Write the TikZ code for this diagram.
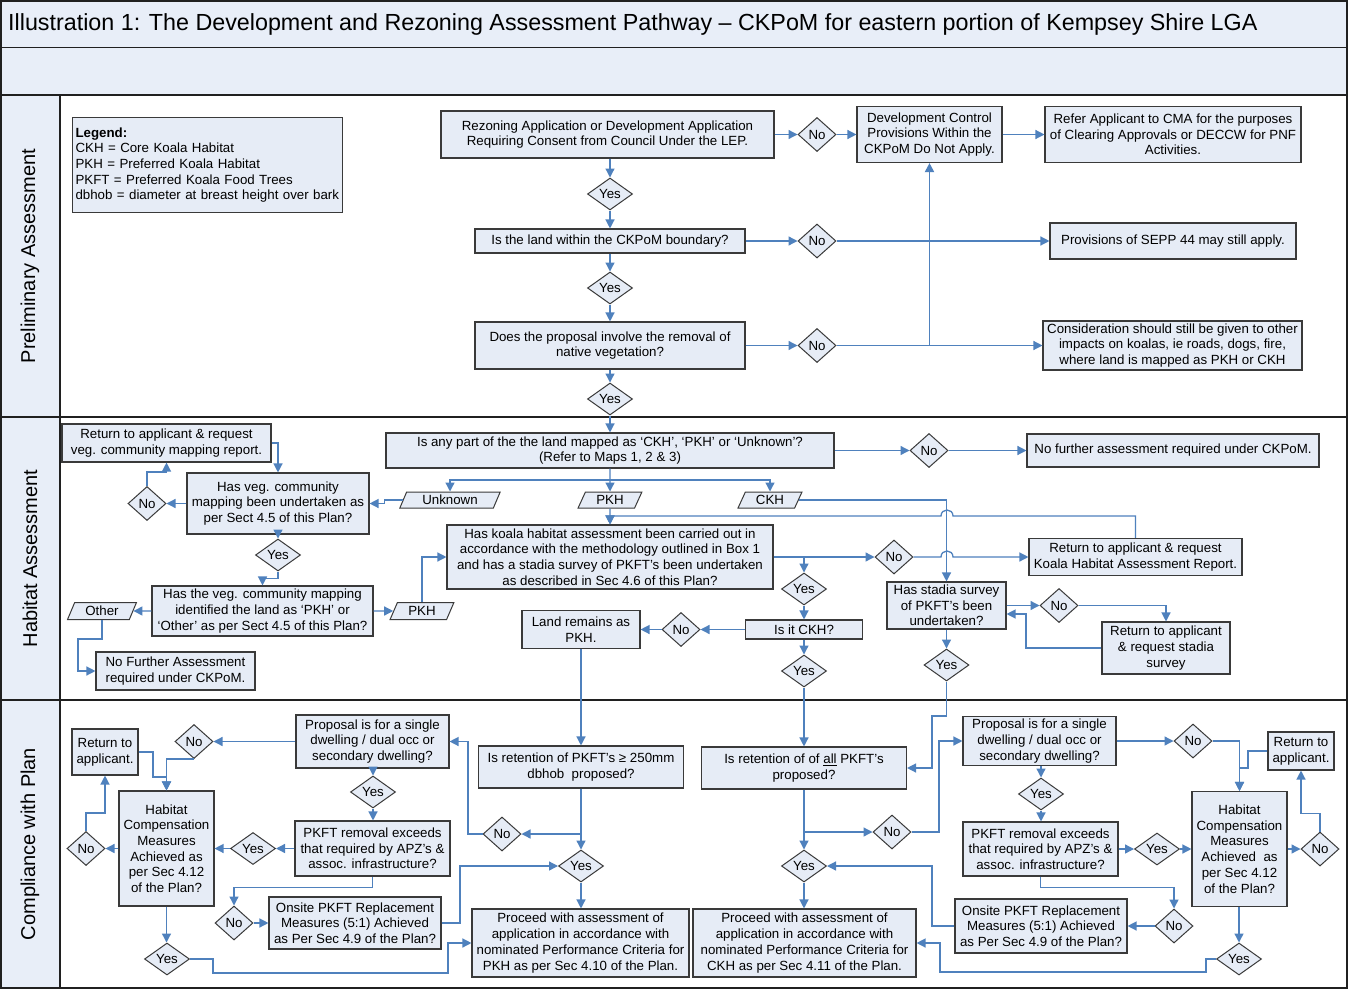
\documentclass[tikz,border=0pt]{standalone}
\usepackage{fontspec}
\setmainfont{Liberation Sans}
\usetikzlibrary{arrows.meta,shapes.geometric,calc}
\definecolor{boxfill}{HTML}{E6ECF6}
\definecolor{bandfill}{HTML}{E8EEF8}
\definecolor{lineblue}{HTML}{4F81BD}
\definecolor{boxline}{HTML}{3A3A3A}
\definecolor{laneline}{HTML}{202020}
\newcommand\fs{\fontsize{13.3}{15.7}\selectfont}
\newcommand\lanefont{\fontsize{20}{24}\selectfont}
\newcommand\titlefont{\fontsize{23.3}{27}\selectfont}
\begin{document}
\begin{tikzpicture}[x=1pt,y=-1pt,
  sz/.style 2 args={minimum width=#1,minimum height=#2},
  box/.style={draw=boxline,fill=boxfill,line width=1.1pt,align=center,inner sep=0pt,font=\fs},
  dno/.style={diamond,aspect=1.4,draw=boxline,fill=boxfill,line width=1pt,inner sep=0pt,minimum width=38,minimum height=34,font=\fs},
  dyes/.style={diamond,aspect=1.4,draw=boxline,fill=boxfill,line width=1pt,inner sep=0pt,minimum width=45,minimum height=32,font=\fs},
  para/.style={trapezium,trapezium left angle=66,trapezium right angle=114,trapezium stretches=true,draw=boxline,fill=boxfill,line width=1pt,inner sep=0pt,minimum height=16,font=\fs},
  conn/.style={draw=lineblue,line width=1.3pt,-{Triangle[length=9pt,width=9pt]}},
  plain/.style={draw=lineblue,line width=1.3pt},
  lane/.style={draw=laneline,line width=1.4pt}
]
\useasboundingbox (0,0) rectangle (1349,990);
\fill[white] (0,0) rectangle (1349,990);
% bands and lanes
\fill[bandfill] (1,1) rectangle (1347,95);
\fill[bandfill] (1,95) rectangle (60,988);
\draw[lane] (1,47.5) -- (1347,47.5);
\draw[lane] (1,95) -- (1347,95);
\draw[lane] (1,417) -- (1347,417);
\draw[lane] (1,700) -- (1347,700);
\draw[lane] (60,95) -- (60,988);
\draw[draw=laneline,line width=2pt] (1,1) rectangle (1347,988);
\node[anchor=west,font=\titlefont,inner sep=0pt] (title) at (8,24) {Illustration 1: The Development and Rezoning Assessment Pathway – CKPoM for eastern portion of Kempsey Shire LGA};
\node[rotate=90,font=\lanefont] (lp) at (30,256) {Preliminary Assessment};
\node[rotate=90,font=\lanefont] (lh) at (30,558.5) {Habitat Assessment};
\node[rotate=90,font=\lanefont] (lc) at (30,844) {Compliance with Plan};

% ---------- Preliminary ----------
\node[box,anchor=north west,sz={270}{95},text width=264,align=left] (leg) at (72,117) {\textbf{Legend:}\\CKH = Core Koala Habitat\\PKH = Preferred Koala Habitat\\PKFT = Preferred Koala Food Trees\\dbhob = diameter at breast height over bark};
\node[box,sz={333}{47}] (rez) at (607.5,134.5) {Rezoning Application or Development Application\\Requiring Consent from Council Under the LEP.};
\node[dyes] (y1) at (610,194) {Yes};
\node[box,sz={270}{24}] (land) at (610,241) {Is the land within the CKPoM boundary?};
\node[dyes] (y2) at (610,288) {Yes};
\node[box,sz={270}{47}] (veg) at (610,345.5) {Does the proposal involve the removal of\\native vegetation?};
\node[dyes] (y3) at (610,399) {Yes};
\node[dno] (n1) at (817,134.5) {No};
\node[dno] (n2) at (817,241) {No};
\node[dno] (n3) at (817,345.5) {No};
\node[box,sz={145}{56}] (dcp) at (929.5,134.5) {Development Control\\Provisions Within the\\CKPoM Do Not Apply.};
\node[box,sz={256}{56}] (cma) at (1173,134.5) {Refer Applicant to CMA for the purposes\\of Clearing Approvals or DECCW for PNF\\Activities.};
\node[box,sz={246}{36}] (sepp) at (1173,241) {Provisions of SEPP 44 may still apply.};
\node[box,sz={259}{49}] (cons) at (1172.5,345.5) {Consideration should still be given to other\\impacts on koalas, ie roads, dogs, fire,\\where land is mapped as PKH or CKH};

\draw[conn] (rez.south -| y1.north) -- (y1.north);
\draw[conn] (y1.south) -- (land.north);
\draw[conn] (land.south) -- (y2.north);
\draw[conn] (y2.south) -- (veg.north);
\draw[conn] (veg.south) -- (y3.north);
\draw[conn] (rez.east) -- (n1.west);
\draw[conn] (n1.east) -- (dcp.west);
\draw[conn] (dcp.east) -- (cma.west);
\draw[conn] (land.east) -- (n2.west);
\draw[conn] (n2.east) -- (sepp.west);
\draw[conn] (veg.east) -- (n3.west);
\draw[conn] (n3.east) -- (cons.west);
\draw[conn,line width=1.8pt] (dcp.south |- n3) -- (dcp.south);

% ---------- Habitat ----------
\node[box,sz={448}{35}] (isany) at (610,450.5) {Is any part of the the land mapped as ‘CKH’, ‘PKH’ or ‘Unknown’?\\(Refer to Maps 1, 2 \& 3)};
\node[dno] (n5) at (929,450.5) {No};
\node[box,sz={292}{33}] (nfr) at (1173,450.5) {No further assessment required under CKPoM.};
\node[para,minimum width=101] (unk) at (450,500) {Unknown};
\node[para,minimum width=64] (pkh2) at (610,500) {PKH};
\node[para,minimum width=64] (ckh) at (770,500) {CKH};
\node[box,sz={209}{38}] (ret1) at (166.5,443) {Return to applicant \& request\\veg. community mapping report.};
\node[box,sz={182}{61}] (hv) at (278,503.5) {Has veg. community\\mapping been undertaken as\\per Sect 4.5 of this Plan?};
\node[dno] (n4) at (147,503.5) {No};
\node[dyes] (y4) at (278,555) {Yes};
\node[box,sz={221}{50}] (hid) at (262.5,611) {Has the veg. community mapping\\identified the land as ‘PKH’ or\\‘Other’ as per Sect 4.5 of this Plan?};
\node[para,minimum width=69,minimum height=17] (other) at (102,611) {Other};
\node[para,minimum width=64,minimum height=17] (pkh1) at (422,611) {PKH};
\node[box,sz={159}{38},align=left] (nfa) at (175.5,671) {No Further Assessment\\required under CKPoM.};
\node[box,sz={326}{64}] (hk) at (610,557) {Has koala habitat assessment been carried out in\\accordance with the methodology outlined in Box 1\\and has a stadia survey of PKFT’s been undertaken\\as described in Sec 4.6 of this Plan?};
\node[dno] (n6) at (894,557) {No};
\node[box,sz={213}{37}] (retk) at (1135.5,557) {Return to applicant \& request\\Koala Habitat Assessment Report.};
\node[box,sz={119}{47}] (hs) at (946.5,605.5) {Has stadia survey\\of PKFT’s been\\undertaken?};
\node[dno] (n7) at (1059,605.5) {No};
\node[box,sz={128}{52}] (rets) at (1166,648) {Return to applicant\\\& request stadia\\survey};
\node[dyes] (y5) at (946.5,665) {Yes};
\node[dyes] (y6) at (804,589) {Yes};
\node[box,sz={117}{19}] (isckh) at (804,629.5) {Is it CKH?};
\node[dno] (n8) at (681,629.5) {No};
\node[box,sz={118}{38}] (lrp) at (581,629.5) {Land remains as\\PKH.};
\node[dyes] (y7) at (804,671) {Yes};

\draw[conn] (y3.south) -- (isany.north);
\draw[conn] (isany.east) -- (n5.west);
\draw[conn] (n5.east) -- (nfr.west);
\coordinate (b1) at (610,480);
\draw[conn] (isany.south) -- (pkh2.north);
\draw[conn] (b1) -| (unk.north);
\draw[conn] (b1) -| (ckh.north);
\draw[conn] (unk.west) -- ++(-18,0) |- (hv.east);
\draw[conn] (hv.west) -- (n4.east);
\draw[conn] (n4.north) -- ++(0,-14) -| (ret1.south);
\draw[conn] (ret1.east) -| (hv.north);
\draw[conn] (hv.south) -- (y4.north);
\draw[conn] (y4.south) -- ++(0,7) -| (hid.north);
\draw[conn] (hid.west) -- (other.east);
\draw[conn] (hid.east) -- (pkh1.west);
\draw[conn] (other.south) -- ++(0,19) -- ++(-24,0) |- (nfa.west);
\draw[conn] (pkh1.north) |- (hk.west);
\draw[conn] (pkh2.south) -- (hk.north);
\draw[conn] (retk.north) |- (953,516) .. controls (953,508) and (941,508) .. (941,516) -| (hk.north);
\draw[conn] (hk.east) -- (n6.west);
\draw[conn] (y6.north |- hk.east) -- (y6.north);
\draw[conn] (n6.east) -- (941,557) .. controls (941,549) and (953,549) .. (953,557) -- (retk.west);
\draw[conn] (ckh.east) -| (hs.north);
\draw[conn] (hs.east) -- (n7.west);
\draw[conn] (n7.east) -| (rets.north);
\draw[conn] (rets.west) -| (1026,614) -- ($(hs.east)+(0,8.5)$);
\draw[conn] (hs.south) -- (y5.north);
\draw[conn] (y6.south) -- (isckh.north);
\draw[conn] (isckh.west) -- (n8.east);
\draw[conn] (n8.west) -- (lrp.east);
\draw[conn] (isckh.south) -- (y7.north);

% ---------- Compliance ----------
\node[box,sz={205}{42}] (retP) at (581,767) {Is retention of PKFT’s ≥ 250mm\\dbhob\ \ proposed?};
\node[dyes] (yP) at (581,866) {Yes};
\node[dno] (nP) at (502,834) {No};
\node[box,sz={217}{68}] (procP) at (580.5,943) {Proceed with assessment of\\application in accordance with\\nominated Performance Criteria for\\PKH as per Sec 4.10 of the Plan.};
\node[box,sz={205}{42}] (retC) at (804,768) {Is retention of of \underline{all} PKFT’s\\proposed?};
\node[dyes] (yC) at (804,866) {Yes};
\node[dno] (nC) at (892,832) {No};
\node[box,sz={223}{68}] (procC) at (804.5,943) {Proceed with assessment of\\application in accordance with\\nominated Performance Criteria for\\CKH as per Sec 4.11 of the Plan.};

\node[box,sz={153}{53}] (propL) at (372.5,741.5) {Proposal is for a single\\dwelling / dual occ or\\secondary dwelling?};
\node[dno] (n9) at (194,741.5) {No};
\node[box,sz={66}{46}] (retL) at (105,752) {Return to\\applicant.};
\node[box,sz={95}{115}] (hcL) at (166.5,848.5) {Habitat\\Compensation\\Measures\\Achieved as\\per Sec 4.12\\of the Plan?};
\node[dno] (n10) at (86,848.5) {No};
\node[dyes] (y8) at (253,848.5) {Yes};
\node[box,sz={155}{55}] (pkfL) at (372.5,848.5) {PKFT removal exceeds\\that required by APZ’s \&\\assoc. infrastructure?};
\node[dyes] (y9) at (373,792) {Yes};
\node[dno] (n11) at (234,923) {No};
\node[box,sz={172}{52}] (onL) at (355,923) {Onsite PKFT Replacement\\Measures (5:1) Achieved\\as Per Sec 4.9 of the Plan?};
\node[dyes] (y10) at (167,959) {Yes};

\node[box,sz={153}{49}] (propR) at (1039.5,741) {Proposal is for a single\\dwelling / dual occ or\\secondary dwelling?};
\node[dno] (n12) at (1193,741) {No};
\node[box,sz={66}{38}] (retR) at (1301,751) {Return to\\applicant.};
\node[box,sz={95}{115}] (hcR) at (1239.5,849) {Habitat\\Compensation\\Measures\\Achieved\ \ as\\per Sec 4.12\\of the Plan?};
\node[dno] (n13) at (1320,849) {No};
\node[dyes] (y11) at (1041,794) {Yes};
\node[box,sz={155}{54}] (pkfR) at (1040.5,849) {PKFT removal exceeds\\that required by APZ’s \&\\assoc. infrastructure?};
\node[dyes] (y12) at (1157,849) {Yes};
\node[dno] (n14) at (1174,926) {No};
\node[box,sz={172}{54}] (onR) at (1041,926) {Onsite PKFT Replacement\\Measures (5:1) Achieved\\as Per Sec 4.9 of the Plan?};
\node[dyes] (y13) at (1239,959) {Yes};

\draw[conn] (lrp.south) -- (retP.north -| lrp.south);
\draw[conn] (y7.south) -- (retC.north);
\draw[conn] (y5.south) |- (932,716) |- (retC.east);
\draw[conn] (retP.south -| yP.north) -- (yP.north);
\draw[conn] (yP.north |- nP.east) -- (nP.east);
\draw[conn] (nP.west) -- (468,834) |- (propL.east);
\draw[conn] (yP.south) -- (procP.north -| yP.south);
\draw[conn] (retC.south) -- (yC.north);
\draw[conn] (retC.south |- nC.west) -- (nC.west);
\draw[conn] (nC.east) -- (939,832) |- (propR.west);
\draw[conn] (yC.south) -- (procC.north -| yC.south);

\draw[conn] (propL.west) -- (n9.east);
\draw[conn] (n9.south) -| (hcL.north);
\draw[conn] (retL.east) -| (153,777) -| (hcL.north);
\draw[conn] (hcL.west) -- (n10.east);
\draw[conn] (n10.north) -- ++(0,-18) -| (retL.south);
\draw[conn] (propL.south -| y9.north) -- (y9.north);
\draw[conn] (y9.south) -- (pkfL.north -| y9.south);
\draw[conn] (pkfL.west) -- (y8.east);
\draw[conn] (y8.west) -- (hcL.east);
\draw[conn] (pkfL.south) -- ++(0,11) -| (n11.north);
\draw[conn] (n11.east) -- (onL.west);
\draw[conn] (onL.east) -- (460,923) |- (yP.west);
\draw[conn] (hcL.south) -- (y10.north -| hcL.south);
\draw[conn] (y10.east) -- (213,959) -- (213,973) -- (448,973) |- (procP.west);

\draw[conn] (propR.east) -- (n12.west);
\draw[conn] (n12.east) -| (hcR.north);
\draw[conn] (retR.west) -| (1248,768) -| (hcR.north);
\draw[conn] (hcR.east) -- (n13.west);
\draw[conn] (n13.north) -- ++(0,-18) -| (retR.south);
\draw[conn] (propR.south -| y11.north) -- (y11.north);
\draw[conn] (y11.south) -- (pkfR.north -| y11.south);
\draw[conn] (pkfR.east) -- (y12.west);
\draw[conn] (y12.east) -- (hcR.west);
\draw[conn] (pkfR.south) -- ++(0,11) -| (n14.north);
\draw[conn] (n14.west) -- (onR.east);
\draw[conn] (onR.west) -- (932,926) |- (yC.east);
\draw[conn] (hcR.south -| y13.north) -- (y13.north);
\draw[conn] (y13.west) -- (1206,959) -- (1206,972) -- (940,972) |- (procC.east);
\end{tikzpicture}
\end{document}
